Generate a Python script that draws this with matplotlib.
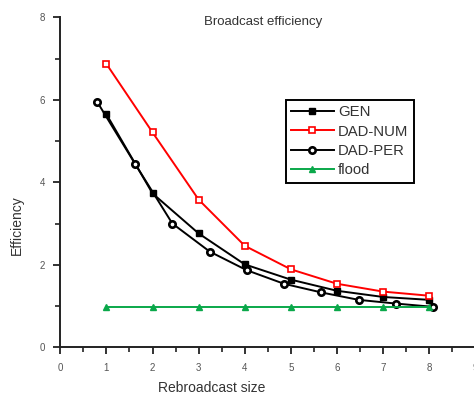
import matplotlib
matplotlib.use("Agg")
import matplotlib.pyplot as plt
from matplotlib.ticker import MultipleLocator

plt.rcParams["font.family"] = ["Liberation Sans", "DejaVu Sans"]

# rebroadcast size vs. efficiency for each scheme
gen_x = [1, 2, 3, 4, 5, 6, 7, 8]
gen_y = [5.65, 3.73, 2.76, 2.01, 1.64, 1.37, 1.22, 1.15]

num_x = [1, 2, 3, 4, 5, 6, 7, 8]
num_y = [6.87, 5.21, 3.58, 2.46, 1.89, 1.54, 1.35, 1.25]

per_x = [0.80, 1.62, 2.43, 3.24, 4.04, 4.85, 5.66, 6.47, 7.28, 8.09]
per_y = [5.95, 4.45, 3.00, 2.32, 1.87, 1.54, 1.33, 1.15, 1.06, 0.98]

flood_x = [1, 2, 3, 4, 5, 6, 7, 8]
flood_y = [0.98, 0.98, 0.98, 0.98, 0.98, 0.98, 0.98, 0.98]

x_ticks = [0, 1, 2, 3, 4, 5, 6, 7, 8, 9]
y_ticks = [0, 2, 4, 6, 8]

GREEN = "#0aa84a"
TEXT = "#333333"

fig = plt.figure(figsize=(4.74, 3.97), dpi=100)
ax = fig.add_axes([0.1272, 0.1252, 0.8757, 0.8312])

ax.plot(gen_x, gen_y, color="black", lw=1.4, marker="s", ms=4.5,
        mfc="black", mec="black", label="GEN")
ax.plot(num_x, num_y, color="red", lw=1.4, marker="s", ms=4.5,
        mfc="white", mec="red", mew=1.2, label="DAD-NUM")
ax.plot(per_x, per_y, color="black", lw=1.4, marker="o", ms=4.6,
        mfc="white", mec="black", mew=1.9, label="DAD-PER")
ax.plot(flood_x, flood_y, color=GREEN, lw=1.4, marker="^", ms=5,
        mfc=GREEN, mec=GREEN, label="flood")

ax.set_xlim(0, 9)
ax.set_ylim(0, 8)
ax.set_xticks(x_ticks)
ax.set_yticks(y_ticks)
ax.xaxis.set_minor_locator(MultipleLocator(0.5))
ax.yaxis.set_minor_locator(MultipleLocator(1))

for side in ("top", "right"):
    ax.spines[side].set_visible(False)
for side in ("left", "bottom"):
    ax.spines[side].set_linewidth(1.4)
    ax.spines[side].set_color("#222222")

ax.tick_params(which="major", direction="out", length=5, width=1.3,
               color="#222222", labelsize=7, labelcolor="#555555")
ax.tick_params(which="minor", direction="out", length=3.5, width=1.2,
               color="#222222")
ax.tick_params(axis="x", pad=6)
ax.tick_params(axis="y", pad=6)

leg = ax.legend(loc="upper left", bbox_to_anchor=(0.5437, 0.749),
                numpoints=1, handlelength=2.85, handletextpad=0.3,
                borderpad=0.35, labelspacing=0.36, borderaxespad=0,
                fontsize=10.7, fancybox=False, framealpha=1)
leg.get_frame().set_edgecolor("black")
leg.get_frame().set_linewidth(1.4)
for t in leg.get_texts():
    t.set_color(TEXT)

fig.text(263 / 474, 1 - 22 / 397, "Broadcast efficiency", ha="center",
         va="center", fontsize=9.5, color=TEXT)
fig.text(212 / 474, 1 - 388 / 397, "Rebroadcast size", ha="center",
         va="center", fontsize=10, color=TEXT)
fig.text(17 / 474, 1 - 225 / 397, "Efficiency", ha="center",
         va="center", rotation=90, fontsize=10, color=TEXT)

fig.savefig("out.png", dpi=100)
